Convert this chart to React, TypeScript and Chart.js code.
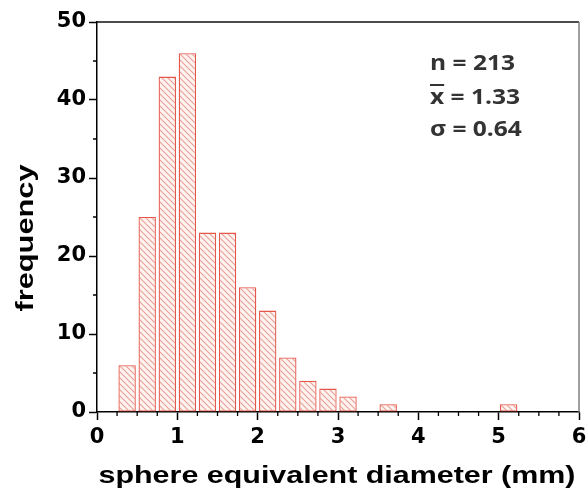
import React, { useEffect, useRef } from "react";
import { Chart, registerables } from "chart.js";

Chart.register(...registerables);

// ---- data ----
const BIN_WIDTH = 0.25;
const binStart = [0.25, 0.5, 0.75, 1.0, 1.25, 1.5, 1.75, 2.0, 2.25, 2.5, 2.75, 3.0, 3.25, 3.5, 3.75, 4.0, 4.25, 4.5, 4.75, 5.0];
const counts = [6, 25, 43, 46, 23, 23, 16, 13, 7, 4, 3, 2, 0, 1, 0, 0, 0, 0, 0, 1];
const xMajorTicks = [0, 1, 2, 3, 4, 5, 6];
const yMajorTicks = [0, 10, 20, 30, 40, 50];
const xTitle = "sphere equivalent diameter (mm)";
const yTitle = "frequency";
const statLines = ["n = 213", "x = 1.33", "\u03c3 = 0.64"];

// ---- styles ----
const BORDER_RED = "#e4574a";
const HATCH_RED = "#e9a096";
const FILL_PINK = "#fdf3f0";

function makeHatch(): CanvasPattern | string {
  const s = 6;
  const c = document.createElement("canvas");
  c.width = s;
  c.height = s;
  const g = c.getContext("2d");
  if (!g) return FILL_PINK;
  g.fillStyle = FILL_PINK;
  g.fillRect(0, 0, s, s);
  g.strokeStyle = HATCH_RED;
  g.lineWidth = 1.1;
  g.beginPath();
  for (const o of [-s, 0, s]) {
    g.moveTo(o - 1, -1);
    g.lineTo(o + s + 1, s + 1);
  }
  g.stroke();
  return g.createPattern(c, "repeat") || FILL_PINK;
}

function stretchText(
  ctx: CanvasRenderingContext2D,
  text: string,
  x: number,
  y: number,
  font: string,
  k: number,
  align: CanvasTextAlign,
  baseline: CanvasTextBaseline,
  rotate = 0
) {
  ctx.save();
  ctx.font = font;
  ctx.translate(x, y);
  if (rotate) ctx.rotate(rotate);
  ctx.scale(k, 1);
  ctx.textAlign = align;
  ctx.textBaseline = baseline;
  ctx.fillText(text, 0, 0);
  ctx.restore();
}

const decor = {
  id: "decor",
  afterDraw(chart: any) {
    const { ctx, chartArea: a, scales } = chart;
    const xs = scales.x;
    const ys = scales.y;
    ctx.save();
    // frame top/right
    ctx.lineWidth = 1.5;
    ctx.strokeStyle = "#111";
    ctx.beginPath();
    ctx.moveTo(a.left, a.top);
    ctx.lineTo(a.right, a.top);
    ctx.stroke();
    ctx.strokeStyle = "#808080";
    ctx.beginPath();
    ctx.moveTo(a.right, a.top);
    ctx.lineTo(a.right, a.bottom);
    ctx.stroke();
    // minor ticks
    ctx.strokeStyle = "#000";
    ctx.lineWidth = 1.3;
    ctx.beginPath();
    for (let i = 0; i < xMajorTicks.length - 1; i++) {
      for (let j = 1; j < 4; j++) {
        const v = xMajorTicks[i] + (j * (xMajorTicks[i + 1] - xMajorTicks[i])) / 4;
        const px = xs.getPixelForValue(v);
        ctx.moveTo(px, a.bottom);
        ctx.lineTo(px, a.bottom + 4);
      }
    }
    for (let i = 0; i < yMajorTicks.length - 1; i++) {
      const v = (yMajorTicks[i] + yMajorTicks[i + 1]) / 2;
      const py = ys.getPixelForValue(v);
      ctx.moveTo(a.left, py);
      ctx.lineTo(a.left - 4, py);
    }
    ctx.stroke();

    // axis titles
    ctx.fillStyle = "#000";
    const tFont = "bold 24px 'Liberation Sans', Arial, sans-serif";
    ctx.font = tFont;
    const kx = 477 / ctx.measureText(xTitle).width;
    stretchText(ctx, xTitle, (a.left + a.right) / 2 - 1, a.bottom + 71, tFont, kx, "center", "alphabetic");
    const yFont = "bold 23px 'Liberation Sans', Arial, sans-serif";
    ctx.font = yFont;
    const ky = 147 / ctx.measureText(yTitle).width;
    stretchText(ctx, yTitle, a.left - 70, (a.top + a.bottom) / 2 + 21, yFont, ky, "center", "middle", -Math.PI / 2);

    // statistics
    ctx.fillStyle = "#333";
    const sFont = "bold 21px 'Open Sans', sans-serif";
    ctx.font = sFont;
    const ks = 85 / ctx.measureText(statLines[0]).width;
    const sx = a.right - 149;
    const baselines = [a.top + 48, a.top + 82, a.top + 114];
    statLines.forEach((t, i) => {
      stretchText(ctx, t, sx, baselines[i], sFont, ks, "left", "alphabetic");
    });
    // overline on x
    ctx.font = sFont;
    const wx = ctx.measureText("x").width * ks;
    ctx.strokeStyle = "#333";
    ctx.lineWidth = 2;
    ctx.beginPath();
    ctx.moveTo(sx, baselines[1] - 19);
    ctx.lineTo(sx + wx, baselines[1] - 19);
    ctx.stroke();
    ctx.restore();
  },
};

export default function App() {
  const canvasRef = useRef<HTMLCanvasElement | null>(null);

  useEffect(() => {
    const canvas = canvasRef.current;
    if (!canvas) return;
    const hatch = makeHatch();
    const data = binStart.map((s, i) => ({ x: s + BIN_WIDTH / 2, y: counts[i] > 0 ? counts[i] : null }));
    const tickFont = { family: "'DejaVu Sans', sans-serif", size: 21, weight: "bold" as const };
    const chart = new Chart(canvas, {
      type: "bar",
      data: {
        datasets: [
          {
            data: data as any,
            backgroundColor: hatch as any,
            borderColor: BORDER_RED,
            borderWidth: 1.3,
            borderSkipped: false,
            barPercentage: 0.865,
            categoryPercentage: 1,
          },
        ],
      },
      options: {
        animation: false,
        responsive: true,
        maintainAspectRatio: false,
        layout: { padding: { top: 22, right: 8, left: 0, bottom: 0 } },
        plugins: { legend: { display: false }, tooltip: { enabled: false } },
        scales: {
          x: {
            type: "linear",
            min: 0,
            max: 6,
            offset: false,
            afterBuildTicks: (s: any) => {
              s.ticks = xMajorTicks.map((v) => ({ value: v }));
            },
            ticks: { font: tickFont, color: "#000", padding: 5, autoSkip: false, maxRotation: 0 },
            grid: {
              display: true,
              drawOnChartArea: false,
              drawTicks: true,
              tickLength: 8,
              tickWidth: 1.5,
              tickColor: "#000",
              offset: false,
            },
            border: { display: true, color: "#000", width: 1.5 },
            afterFit: (s: any) => {
              s.height = 79;
              s.paddingLeft = 0;
              s.paddingRight = 0;
            },
          },
          y: {
            type: "linear",
            min: 0,
            max: 50,
            afterBuildTicks: (s: any) => {
              s.ticks = yMajorTicks.map((v) => ({ value: v }));
            },
            ticks: { font: tickFont, color: "#000", padding: 3 },
            grid: {
              display: true,
              drawOnChartArea: false,
              drawTicks: true,
              tickLength: 8,
              tickWidth: 1.5,
              tickColor: "#000",
            },
            border: { display: true, color: "#000", width: 1.5 },
            afterFit: (s: any) => {
              s.width = 97;
              s.paddingTop = 0;
              s.paddingBottom = 0;
            },
          },
        },
      },
      plugins: [decor],
    });
    return () => chart.destroy();
  }, []);

  return (
    <div style={{ position: "fixed", left: 0, top: 0, width: 587, height: 491, background: "#fff" }}>
      <canvas ref={canvasRef} />
    </div>
  );
}
